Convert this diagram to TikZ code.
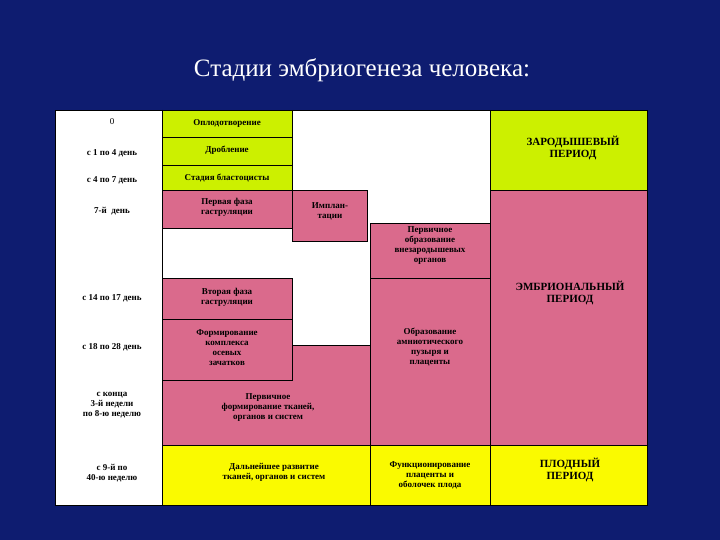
\documentclass[tikz,border=0pt]{standalone}
\usepackage{fontspec}
\setmainfont{Liberation Serif}
\begin{document}
\begin{tikzpicture}[x=1pt,y=-1pt,
  lbl/.style={font=\bfseries\fontsize{9}{10}\selectfont,align=center,text=black},
  big/.style={font=\bfseries\fontsize{11}{11.5}\selectfont,align=center,text=black},
  cell/.style={draw=black,line width=0.8pt}]
\definecolor{bg}{RGB}{14,28,112}
\definecolor{lime}{RGB}{204,240,0}
\definecolor{rose}{RGB}{218,106,140}
\definecolor{yel}{RGB}{250,250,0}
\fill[bg] (0,0) rectangle (720,540);
\useasboundingbox (0,0) rectangle (720,540);
\node[font=\fontsize{25}{27}\selectfont,text=white] (title) at (362,70) {Стадии эмбриогенеза человека:};
\fill[white] (55,110) rectangle (647,505);
\fill[cell,fill=lime] (162,110) rectangle (292,137);
\fill[cell,fill=lime] (162,137) rectangle (292,165);
\fill[cell,fill=lime] (162,165) rectangle (292,190);
\fill[cell,fill=lime] (490,110) rectangle (647,190);
\fill[cell,fill=rose] (162,190) rectangle (292,228);
\fill[cell,fill=rose] (292,190) rectangle (367,241);
\fill[cell,fill=rose] (370,223) rectangle (490,278);
\fill[cell,fill=rose] (162,278) rectangle (292,319);
\fill[cell,fill=rose] (162,319) rectangle (292,380);
\fill[cell,fill=rose] (162,380) -- (292,380) -- (292,345) -- (370,345) -- (370,445) -- (162,445) -- cycle;
\fill[cell,fill=rose] (370,278) rectangle (490,445);
\fill[cell,fill=rose] (490,190) rectangle (647,445);
\fill[cell,fill=yel] (162,445) rectangle (370,505);
\fill[cell,fill=yel] (370,445) rectangle (490,505);
\fill[cell,fill=yel] (490,445) rectangle (647,505);
\draw[line width=0.8pt] (55,110) rectangle (647,505);
\draw[line width=0.8pt] (162,110) -- (162,505);
\node[lbl] (c1) at (227,123) {Оплодотворение};
\node[lbl] (c2) at (227,150) {Дробление};
\node[lbl] (c3) at (227,178) {Стадия бластоцисты};
\node[lbl] (c4) at (227,207) {Первая фаза\\гаструляции};
\node[lbl] (c5) at (330,211) {Имплан-\\тации};
\node[lbl] (c6) at (430,246) {Первичное\\образование\\внезародышевых\\органов};
\node[lbl] (c7) at (227,297) {Вторая фаза\\гаструляции};
\node[lbl] (c8) at (227,348) {Формирование\\комплекса\\осевых\\зачатков};
\node[lbl] (c9) at (268,408) {Первичное\\формирование тканей,\\органов и систем};
\node[lbl] (c10) at (430,347) {Образование\\амниотического\\пузыря и\\плаценты};
\node[lbl] (c11) at (274,472) {Дальнейшее развитие\\тканей, органов и систем};
\node[lbl] (c12) at (430,475) {Функционирование\\плаценты и\\оболочек плода};
\node[big] (p1) at (573,148) {ЗАРОДЫШЕВЫЙ\\ПЕРИОД};
\node[big] (p2) at (570,293) {ЭМБРИОНАЛЬНЫЙ\\ПЕРИОД};
\node[big] (p3) at (570,470) {ПЛОДНЫЙ\\ПЕРИОД};
\node[lbl,font=\fontsize{9}{10}\selectfont] (t0) at (112,122) {0};
\node[lbl] (t1) at (112,153) {с 1 по 4 день};
\node[lbl] (t2) at (112,180) {с 4 по 7 день};
\node[lbl] (t3) at (112,211) {7-й\ \ день};
\node[lbl] (t4) at (112,298) {с 14 по 17 день};
\node[lbl] (t5) at (112,347) {с 18 по 28 день};
\node[lbl] (t6) at (112,405) {с конца\\3-й недели\\по 8-ю неделю};
\node[lbl] (t7) at (112,473) {с 9-й по\\40-ю неделю};
\end{tikzpicture}
\end{document}
